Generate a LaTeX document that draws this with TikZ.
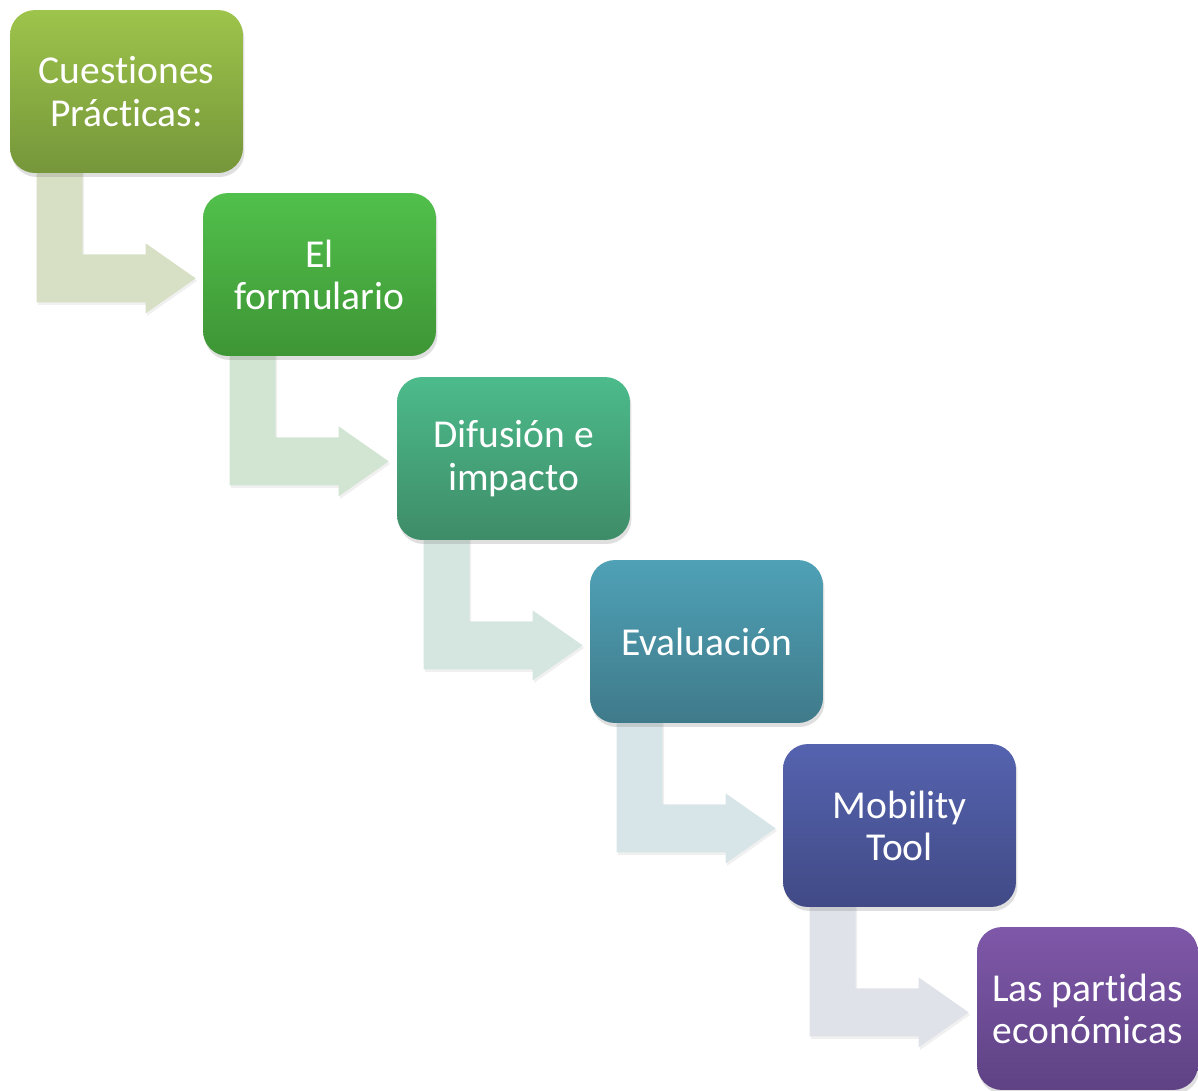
\documentclass[tikz,border=0pt]{standalone}
\usepackage{fontspec}
\setmainfont{Carlito}[Ligatures={NoCommon}]
\usepackage{tikz}
\usetikzlibrary{calc, shadows, backgrounds}
\definecolor{olivaA}{HTML}{9DC44B}
\definecolor{olivaB}{HTML}{76963A}
\definecolor{verdeA}{HTML}{51C04B}
\definecolor{verdeB}{HTML}{3E9535}
\definecolor{turquesaA}{HTML}{4CBB8B}
\definecolor{turquesaB}{HTML}{3E8C68}
\definecolor{azulA}{HTML}{4FA1B6}
\definecolor{azulB}{HTML}{3F7A8A}
\definecolor{indigoA}{HTML}{5563AF}
\definecolor{indigoB}{HTML}{414A86}
\definecolor{moradoA}{HTML}{7F58A9}
\definecolor{moradoB}{HTML}{5E4284}
\definecolor{flechaoliva}{HTML}{D7E0C5}
\definecolor{flechaverde}{HTML}{D2E5D2}
\definecolor{flechaturquesa}{HTML}{D5E6E0}
\definecolor{flechaazul}{HTML}{D8E5E8}
\definecolor{flechaindigo}{HTML}{E0E2EA}
\tikzstyle{caja} = [rectangle, rounded corners=0.5cm, minimum width=4.66cm, minimum height=3.26cm, inner sep=2pt, align=center, text=white, font=\fontsize{22.5}{24}\selectfont, drop shadow={opacity=0.25, shadow xshift=0.03cm, shadow yshift=-0.08cm}]
\tikzstyle{flecha} = [drop shadow={opacity=0.12, shadow xshift=0.03cm, shadow yshift=-0.05cm}]

\begin{document}
\begin{tikzpicture}[x=0.02cm, y=-0.02cm]

        \useasboundingbox (0,0) rectangle (1198,1090);
        \clip (0,0) rectangle (1198,1090);

        \node (cuestiones) [caja, top color=olivaA, bottom color=olivaB] at (126.5,91.5) {Cuestiones\\Prácticas:};
        \node (formulario) [caja, top color=verdeA, bottom color=verdeB] at (319.5,274.5) {El\\formulario};
        \node (difusion) [caja, top color=turquesaA, bottom color=turquesaB] at (513.5,458.5) {Difusión e\\impacto};
        \node (evaluacion) [caja, top color=azulA, bottom color=azulB] at (706.5,641.5) {Evaluación};
        \node (mobility) [caja, top color=indigoA, bottom color=indigoB] at (899.5,825.5) {Mobility\\Tool};
        \node (partidas) [caja, minimum width=4.42cm, top color=moradoA, bottom color=moradoB] at (1087.5,1008.5) {Las partidas\\económicas};

        \begin{pgfonlayer}{background}
        \fill[flecha, fill=flechaoliva] ($(cuestiones.south west)+(27,-5)$) -- ++(46,0) -- ++(0,86) -- ++(63,0) -- ++(0,-11) -- ++(50,35) -- ++(-50,35) -- ++(0,-11) -- ++(-109,0) -- cycle;
        \fill[flecha, fill=flechaverde] ($(formulario.south west)+(27,-5)$) -- ++(46,0) -- ++(0,86) -- ++(63,0) -- ++(0,-11) -- ++(50,35) -- ++(-50,35) -- ++(0,-11) -- ++(-109,0) -- cycle;
        \fill[flecha, fill=flechaturquesa] ($(difusion.south west)+(27,-5)$) -- ++(46,0) -- ++(0,86) -- ++(63,0) -- ++(0,-11) -- ++(50,35) -- ++(-50,35) -- ++(0,-11) -- ++(-109,0) -- cycle;
        \fill[flecha, fill=flechaazul] ($(evaluacion.south west)+(27,-5)$) -- ++(46,0) -- ++(0,86) -- ++(63,0) -- ++(0,-11) -- ++(50,35) -- ++(-50,35) -- ++(0,-11) -- ++(-109,0) -- cycle;
        \fill[flecha, fill=flechaindigo] ($(mobility.south west)+(27,-5)$) -- ++(46,0) -- ++(0,86) -- ++(63,0) -- ++(0,-11) -- ++(50,35) -- ++(-50,35) -- ++(0,-11) -- ++(-109,0) -- cycle;
        \end{pgfonlayer}

    \end{tikzpicture}
\end{document}
